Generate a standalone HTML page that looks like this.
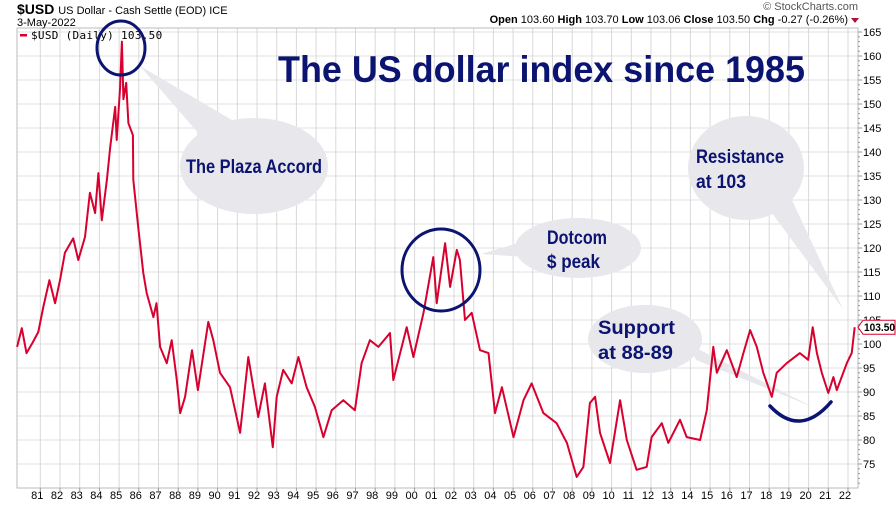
<!DOCTYPE html>
<html><head><meta charset="utf-8">
<style>
html,body{margin:0;padding:0;background:#fff;}
body{width:896px;height:504px;overflow:hidden;font-family:"Liberation Sans",sans-serif;}
</style></head>
<body>
<svg id="chart" width="896" height="504" viewBox="0 0 896 504" xmlns="http://www.w3.org/2000/svg" font-family="Liberation Sans, sans-serif">
  <g id="grid"></g>
  <rect x="17" y="28" width="841" height="460" fill="none" stroke="#bbb" stroke-width="1"/>
  <g id="yaxis"></g>
  <g id="xaxis"></g>

  <text x="17" y="14" font-size="14" font-weight="bold" fill="#000">$USD <tspan font-size="11" font-weight="normal">US Dollar - Cash Settle (EOD) ICE</tspan></text>
  <text x="17" y="26" font-size="11" fill="#000">3-May-2022</text>
  <text x="858" y="10" font-size="11" fill="#555" text-anchor="end">© StockCharts.com</text>
  <text x="848" y="23" font-size="11" fill="#000" text-anchor="end"><tspan font-weight="bold">Open</tspan> 103.60 <tspan font-weight="bold">High</tspan> 103.70 <tspan font-weight="bold">Low</tspan> 103.06 <tspan font-weight="bold">Close</tspan> 103.50 <tspan font-weight="bold">Chg</tspan> -0.27 (-0.26%)</text>
  <polygon points="851,18 859,18 855,23" fill="#b0103a"/>

  <g>
    <rect x="20" y="34" width="7" height="2.5" fill="#d8002f"/>
    <text x="31" y="39" font-size="11" font-family="DejaVu Sans Mono, monospace" fill="#000" letter-spacing="0.3">$USD (Daily) 103.50</text>
  </g>

  <g>
    <polygon points="140,66 232,120 200,135" fill="#e8e8ec"/>
    <ellipse cx="254" cy="166" rx="74" ry="48" fill="#e8e8ec"/>
    <polygon points="481,254 535,238 540,258" fill="#e8e8ec"/>
    <ellipse cx="578" cy="248" rx="63" ry="30" fill="#e8e8ec"/>
    <polygon points="843,309 766,205 790,196" fill="#e8e8ec"/>
    <ellipse cx="746" cy="168" rx="58" ry="52" fill="#e8e8ec"/>
    <polygon points="813,407 690,345 696,360" fill="#e8e8ec"/>
    <ellipse cx="645" cy="339" rx="57" ry="34" fill="#e8e8ec"/>
  </g>

  <g id="series"></g>

  <text x="278" y="82" font-size="37" font-weight="bold" fill="#0b1470" textLength="527" lengthAdjust="spacingAndGlyphs">The US dollar index since 1985</text>
  <text x="186" y="173" font-size="19" font-weight="bold" fill="#0b1470" textLength="136" lengthAdjust="spacingAndGlyphs">The Plaza Accord</text>
  <text x="547" y="244" font-size="19" font-weight="bold" fill="#0b1470" textLength="60" lengthAdjust="spacingAndGlyphs">Dotcom</text>
  <text x="547" y="268" font-size="19" font-weight="bold" fill="#0b1470" textLength="53" lengthAdjust="spacingAndGlyphs">$ peak</text>
  <text x="696" y="163" font-size="19" font-weight="bold" fill="#0b1470" textLength="88" lengthAdjust="spacingAndGlyphs">Resistance</text>
  <text x="696" y="188" font-size="19" font-weight="bold" fill="#0b1470" textLength="50" lengthAdjust="spacingAndGlyphs">at 103</text>
  <text x="598" y="334" font-size="19" font-weight="bold" fill="#0b1470" textLength="77" lengthAdjust="spacingAndGlyphs">Support</text>
  <text x="598" y="359" font-size="19" font-weight="bold" fill="#0b1470" textLength="75" lengthAdjust="spacingAndGlyphs">at 88-89</text>

  <ellipse cx="121" cy="48" rx="24" ry="27" fill="none" stroke="#0b1470" stroke-width="3"/>
  <ellipse cx="441" cy="270" rx="39" ry="41" fill="none" stroke="#0b1470" stroke-width="3"/>
  <path d="M770,406 Q800,438 831,402" fill="none" stroke="#0b1470" stroke-width="3.5" stroke-linecap="round"/>

  <g id="pricetag"></g>
</svg>
<script>
const yearTicks = ["81","82","83","84","85","86","87","88","89","90","91","92","93","94","95","96","97","98","99","00","01","02","03","04","05","06","07","08","09","10","11","12","13","14","15","16","17","18","19","20","21","22"];
const valueTicks = [75,80,85,90,95,100,105,110,115,120,125,130,135,140,145,150,155,160,165];
const dates = [1979.82,1980.06,1980.3,1980.6,1980.9,1981.15,1981.46,1981.75,1982.0,1982.25,1982.67,1982.93,1983.27,1983.52,1983.78,1983.95,1984.12,1984.38,1984.55,1984.8,1984.88,1985.05,1985.14,1985.22,1985.36,1985.47,1985.7,1985.72,1985.97,1986.23,1986.4,1986.74,1986.9,1987.08,1987.42,1987.67,1987.93,1988.1,1988.35,1988.7,1989.0,1989.53,1989.78,1990.12,1990.63,1991.14,1991.56,1992.06,1992.4,1992.8,1993.0,1993.33,1993.76,1994.1,1994.52,1994.94,1995.37,1995.79,1996.38,1996.97,1997.31,1997.73,1998.16,1998.75,1998.92,1999.6,1999.94,2000.45,2000.95,2001.12,2001.55,2001.8,2002.14,2002.3,2002.56,2002.9,2003.32,2003.75,2004.08,2004.43,2005.02,2005.53,2005.94,2006.54,2007.21,2007.73,2008.23,2008.57,2008.9,2009.16,2009.41,2009.92,2010.43,2010.77,2011.27,2011.78,2012.03,2012.55,2012.88,2013.47,2013.81,2014.49,2014.83,2015.16,2015.34,2015.85,2016.35,2016.69,2017.03,2017.37,2017.7,2018.13,2018.38,2018.89,2019.56,2019.98,2020.21,2020.42,2020.67,2021.0,2021.26,2021.43,2021.94,2022.19,2022.34];
const values = [99.4,103.3,98.1,100.2,102.5,107.7,113.3,108.5,113.3,119,122,117.5,122.3,131.5,127.3,135.6,125.8,134.2,141,149.4,142.5,153.5,163,151,154.4,146,143.5,134.2,124.4,114.8,110.6,105.6,108.5,99.4,96,100.8,92.5,85.6,89,98.7,90.4,104.6,100.8,94,91,81.5,97.3,84.8,91.8,78.5,89,94.6,91.8,97.3,91,86.9,80.6,86.2,88.3,86.2,96,100.8,99.4,102.3,92.5,103.5,97.3,106.5,118.1,108.5,121,111.9,119.6,117.5,105,106.5,98.7,98.1,85.6,91,80.6,88.3,91.8,85.6,83.5,79.4,72.3,74.4,87.7,89,81.5,75.2,88.3,80,73.8,74.4,80.6,83.5,79.4,84.2,80.6,80,86.2,99.4,94,98.7,93.1,98.1,102.9,99.4,94,89,94,96,98.1,96.7,103.5,98.1,94,89.8,93.1,90.4,96,98.1,103.5];
const lastPrice = "103.50";

const NS = "http://www.w3.org/2000/svg";
const L = 17, R = 858, T = 28, B = 488;
function xScale(yr){ return 848 + (yr - 2022) * 19.7; }
function yScale(v){ return 464 - (v - 75) * 4.8; }
function mk(tag, attrs, parent){ const e = document.createElementNS(NS, tag); for (const k in attrs) e.setAttribute(k, attrs[k]); parent.appendChild(e); return e; }

const grid = document.getElementById('grid');
const yaxis = document.getElementById('yaxis');
const xaxis = document.getElementById('xaxis');
for (let v = 70; v <= 165; v += 5) {
  const y = yScale(v);
  const gl = mk('line', {x1:L, x2:R, y1:y, y2:y, stroke:'#e2e2e2', 'stroke-width':1}, grid);
  
  
}
for (let v = 71; v <= 165; v += 1) {
  const y = yScale(v);
  const t = mk('line', {x1:R, x2:R+(v%5===0?4:2), y1:y, y2:y, stroke:'#999', 'stroke-width':1}, yaxis);
  
  
}
valueTicks.forEach(v => {
  const t = mk('text', {x:R+5, y:yScale(v)+4, 'font-size':11, fill:'#000'}, yaxis);
  t.textContent = String(v);
  
  
});
yearTicks.forEach((lab, i) => {
  const yr = 1981 + i;
  const x = xScale(yr);
  const gl = mk('line', {x1:x, x2:x, y1:T, y2:B, stroke:'#d8d8d8', 'stroke-width':1}, grid);
  
  
  const tk = mk('line', {x1:x, x2:x, y1:B, y2:B+3, stroke:'#999', 'stroke-width':1}, xaxis);
  
  
  const t = mk('text', {x:x-3, y:499, 'font-size':11, fill:'#000', 'text-anchor':'middle'}, xaxis);
  t.textContent = lab;
  
  
});

const series = document.getElementById('series');
let d = '';
dates.forEach((yr, i) => { d += (i ? 'L' : 'M') + xScale(yr).toFixed(1) + ',' + yScale(values[i]).toFixed(1); });
const line = mk('path', {d:d, fill:'none', stroke:'#d8002f', 'stroke-width':2, 'stroke-linejoin':'round'}, series);



const tag = document.getElementById('pricetag');
const ly = yScale(values[values.length-1]);
const poly = mk('polygon', {points:`${R},${ly} ${R+5},${ly-7} ${895},${ly-7} ${895},${ly+7} ${R+5},${ly+7}`, fill:'#fff', stroke:'#d8002f', 'stroke-width':1}, tag);


const pt = mk('text', {x:R+6, y:ly+4, 'font-size':11, 'font-weight':'bold', fill:'#000', textLength:31, lengthAdjust:'spacingAndGlyphs'}, tag);
pt.textContent = lastPrice;


</script>
</body></html>
